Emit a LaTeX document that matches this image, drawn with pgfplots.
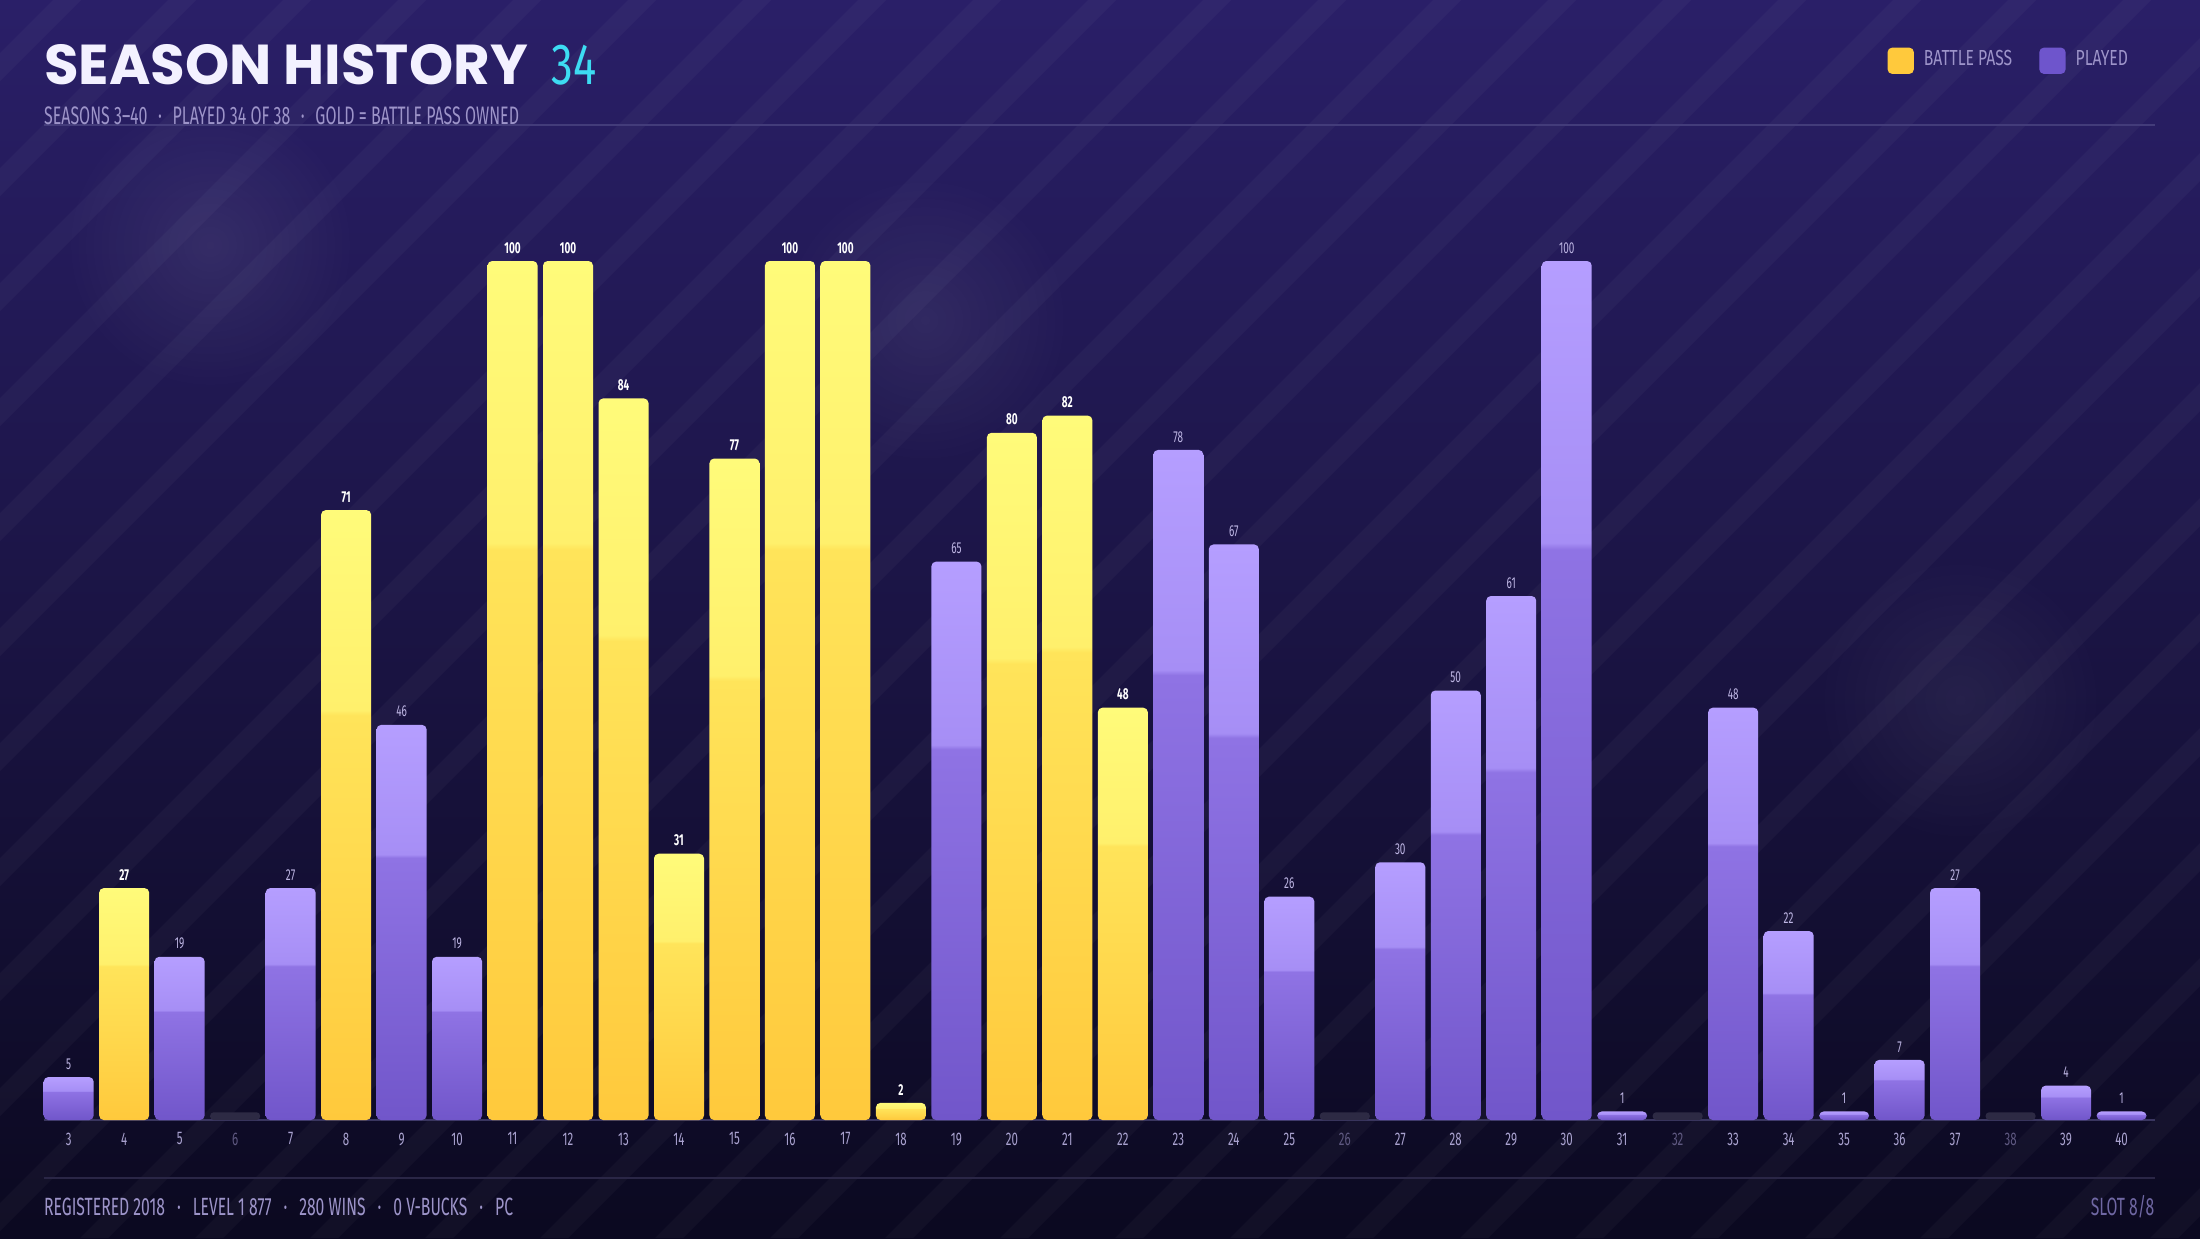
\documentclass[border=0pt]{standalone}
\usepackage{fontspec}
\setmainfont{Fira Sans}
\newfontfamily\cf{Fira Sans}[FakeStretch=0.63]
\newfontfamily\cfn{Fira Sans}[FakeStretch=0.75]
\newfontfamily\cfl{Fira Sans}[FakeStretch=0.72]
\newfontfamily\titlef{Poppins}
\usepackage{pgfplots}
\usepackage{pgfplotstable}
\usetikzlibrary{fadings}
\pgfplotsset{compat=1.18}
\tikzfading[name=glowfade, inner color=transparent!0, outer color=transparent!100]
\definecolor{bgtop}{HTML}{2A1F68}
\definecolor{bgmid}{HTML}{1B1449}
\definecolor{bgbot}{HTML}{0B0920}
\definecolor{ytop}{HTML}{FFFB7A}
\definecolor{yband}{HTML}{FFF06C}
\definecolor{ymid}{HTML}{FFE45A}
\definecolor{ybot}{HTML}{FFC93C}
\definecolor{ptop}{HTML}{B59EFF}
\definecolor{pband}{HTML}{A68EF5}
\definecolor{pmid}{HTML}{8F73E4}
\definecolor{pbot}{HTML}{7156CA}
\definecolor{stub}{HTML}{2D2A44}
\definecolor{ticklab}{HTML}{A9A2CF}
\definecolor{tickdim}{HTML}{5E5880}
\definecolor{subC}{HTML}{9D94C9}
\definecolor{lineC}{HTML}{433C7A}
\definecolor{footline}{HTML}{2A2646}
\definecolor{axisC}{HTML}{3A3660}
\definecolor{cyanC}{HTML}{3DDCF2}
\definecolor{titleC}{HTML}{F3F1FF}
\definecolor{plab}{HTML}{BDB5E3}
\definecolor{legY}{HTML}{FFC93C}
\definecolor{legP}{HTML}{6E55CC}
\definecolor{slotC}{HTML}{6F67A3}
\pgfdeclareverticalshading{ybarsh}{100bp}{color(0bp)=(ybot); color(25bp)=(ybot); color(58.2bp)=(ymid); color(58.6bp)=(yband); color(75bp)=(ytop); color(100bp)=(ytop)}
\pgfdeclareverticalshading{pbarsh}{100bp}{color(0bp)=(pbot); color(25bp)=(pbot); color(58.2bp)=(pmid); color(58.6bp)=(pband); color(75bp)=(ptop); color(100bp)=(ptop)}

\pgfplotstableread{
x y
4 27
8 71
11 100
12 100
13 84
14 31
15 77
16 100
17 100
18 2
20 80
21 82
22 48
}\bpass
\pgfplotstableread{
x y
3 5
5 19
7 27
9 46
10 19
19 65
23 78
24 67
25 26
27 30
28 50
29 61
30 100
31 1
33 48
34 22
35 1
36 7
37 27
39 4
40 1
}\played
\pgfplotstableread{
x y
6 0.9
26 0.9
32 0.9
38 0.9
}\absent

\newcommand{\dsep}{\hspace{0.42em}·\hspace{0.42em}}
\newcommand{\fsep}{\hspace{0.48em}·\hspace{0.48em}}

\begin{document}
\begin{tikzpicture}
% background
\shade[top color=bgtop, middle color=bgmid, bottom color=bgbot] (0,0) rectangle (22,-12.38);
\begin{scope}
\clip (0,0) rectangle (22,-12.38);
\foreach \i in {-13.0,-11.85,...,22.0} {
  \fill[white, opacity=0.03] (\i,-12.38) -- ++(0.28,0) -- ++(12.38,12.38) -- ++(-0.28,0) -- cycle;
}
\fill[white, opacity=0.08, path fading=glowfade] (2.1,-2.45) circle (1.5cm);
\fill[white, opacity=0.07, path fading=glowfade] (9.25,-3.2) circle (1.5cm);
\fill[white, opacity=0.06, path fading=glowfade] (19.6,-7.0) circle (1.5cm);
\end{scope}
% header
\node[anchor=base west, inner sep=0pt, text=titleC, font=\titlef\bfseries\fontsize{16}{18}\selectfont] at (0.435,-0.84) {SEASON HISTORY};
\node[anchor=base west, inner sep=0pt, text=cyanC, font=\cfn\fontsize{16.5}{18}\selectfont] at (5.51,-0.84) {34};
\draw[lineC, line width=0.45pt] (0.435,-1.25) -- (21.55,-1.25);
\node[anchor=base west, inner sep=0pt, text=subC, font=\cf\fontsize{7.2}{8}\selectfont] at (0.435,-1.24) {SEASONS 3–40\dsep PLAYED 34 OF 38\dsep GOLD = BATTLE PASS OWNED};
% footer
\draw[footline, line width=0.45pt] (0.435,-11.78) -- (21.55,-11.78);
\node[anchor=base west, inner sep=0pt, text=subC, font=\cf\fontsize{7.1}{8}\selectfont] at (0.435,-12.15) {REGISTERED 2018\fsep LEVEL 1 877\fsep 280 WINS\fsep 0 V-BUCKS\fsep PC};
\node[anchor=base east, inner sep=0pt, text=slotC, font=\cf\fontsize{7.1}{8}\selectfont] at (21.55,-12.15) {SLOT 8/8};

\begin{axis}[
  at={(0.435cm,-11.20cm)}, anchor=south west, scale only axis,
  width=21.113cm, height=9.449cm,
  xmin=2.546, xmax=40.6, ymin=0, ymax=110,
  clip=false,
  axis y line=none,
  axis x line*=bottom,
  x axis line style={draw=axisC, line width=0.5pt},
  major tick length=0pt,
  xtick={3,...,40},
  xticklabels={3,4,5,\textcolor{tickdim}{6},7,8,9,10,11,12,13,14,15,16,17,18,19,20,21,22,23,24,25,\textcolor{tickdim}{26},27,28,29,30,31,\textcolor{tickdim}{32},33,34,35,36,37,\textcolor{tickdim}{38},39,40},
  xticklabel style={font=\cf\fontsize{5.2}{6}\selectfont, text=ticklab, inner sep=0pt, yshift=-0.12cm},
  /pgf/number format/assume math mode=true,
  legend columns=2,
  legend style={at={(0.9876,1.121)}, anchor=east, draw=none, fill=none, inner sep=0pt,
    font=\cfl\fontsize{6.2}{7}\selectfont, text=subC,
    nodes={inner sep=0pt},
    /tikz/every odd column/.append style={column sep=0.1cm},
    /tikz/every even column/.append style={column sep=0.27cm}},
  barbase/.style={ybar, bar width=0.50cm, bar shift=0pt, draw=none, forget plot},
  ylab/.style={nodes near coords, every node near coord/.append style={anchor=south, inner sep=0pt, yshift=2pt, text=white, font=\cf\bfseries\fontsize{4.5}{5}\selectfont}},
  plab/.style={nodes near coords, every node near coord/.append style={anchor=south, inner sep=0pt, yshift=2pt, text=plab, font=\cf\fontsize{4.5}{5}\selectfont}},
]
\addlegendimage{legend image code/.code={\fill[legY, rounded corners=1.2pt] (0cm,-0.125cm) rectangle (0.25cm,0.125cm);}}
\addlegendentry{BATTLE PASS}
\addlegendimage{legend image code/.code={\fill[legP, rounded corners=1.2pt] (0cm,-0.125cm) rectangle (0.25cm,0.125cm);}}
\addlegendentry{PLAYED}

\addplot[barbase, fill=stub, rounded corners=1pt] table[x=x,y=y] {\absent};
% one plot per bar so that every bar gets its own gradient
\pgfplotsinvokeforeach{4,8,11,12,13,14,15,16,17,18,20,21,22}{
  \addplot[barbase, shading=ybarsh, rounded corners=1.3pt, ylab, restrict x to domain=#1:#1] table[x=x,y=y] {\bpass};
}
\pgfplotsinvokeforeach{3,5,7,9,10,19,23,24,25,27,28,29,30,31,33,34,35,36,37,39,40}{
  \addplot[barbase, shading=pbarsh, rounded corners=1.3pt, plab, restrict x to domain=#1:#1] table[x=x,y=y] {\played};
}
\end{axis}
\pgfresetboundingbox
\path[use as bounding box] (0,0) rectangle (22,-12.38);
\end{tikzpicture}
\end{document}
